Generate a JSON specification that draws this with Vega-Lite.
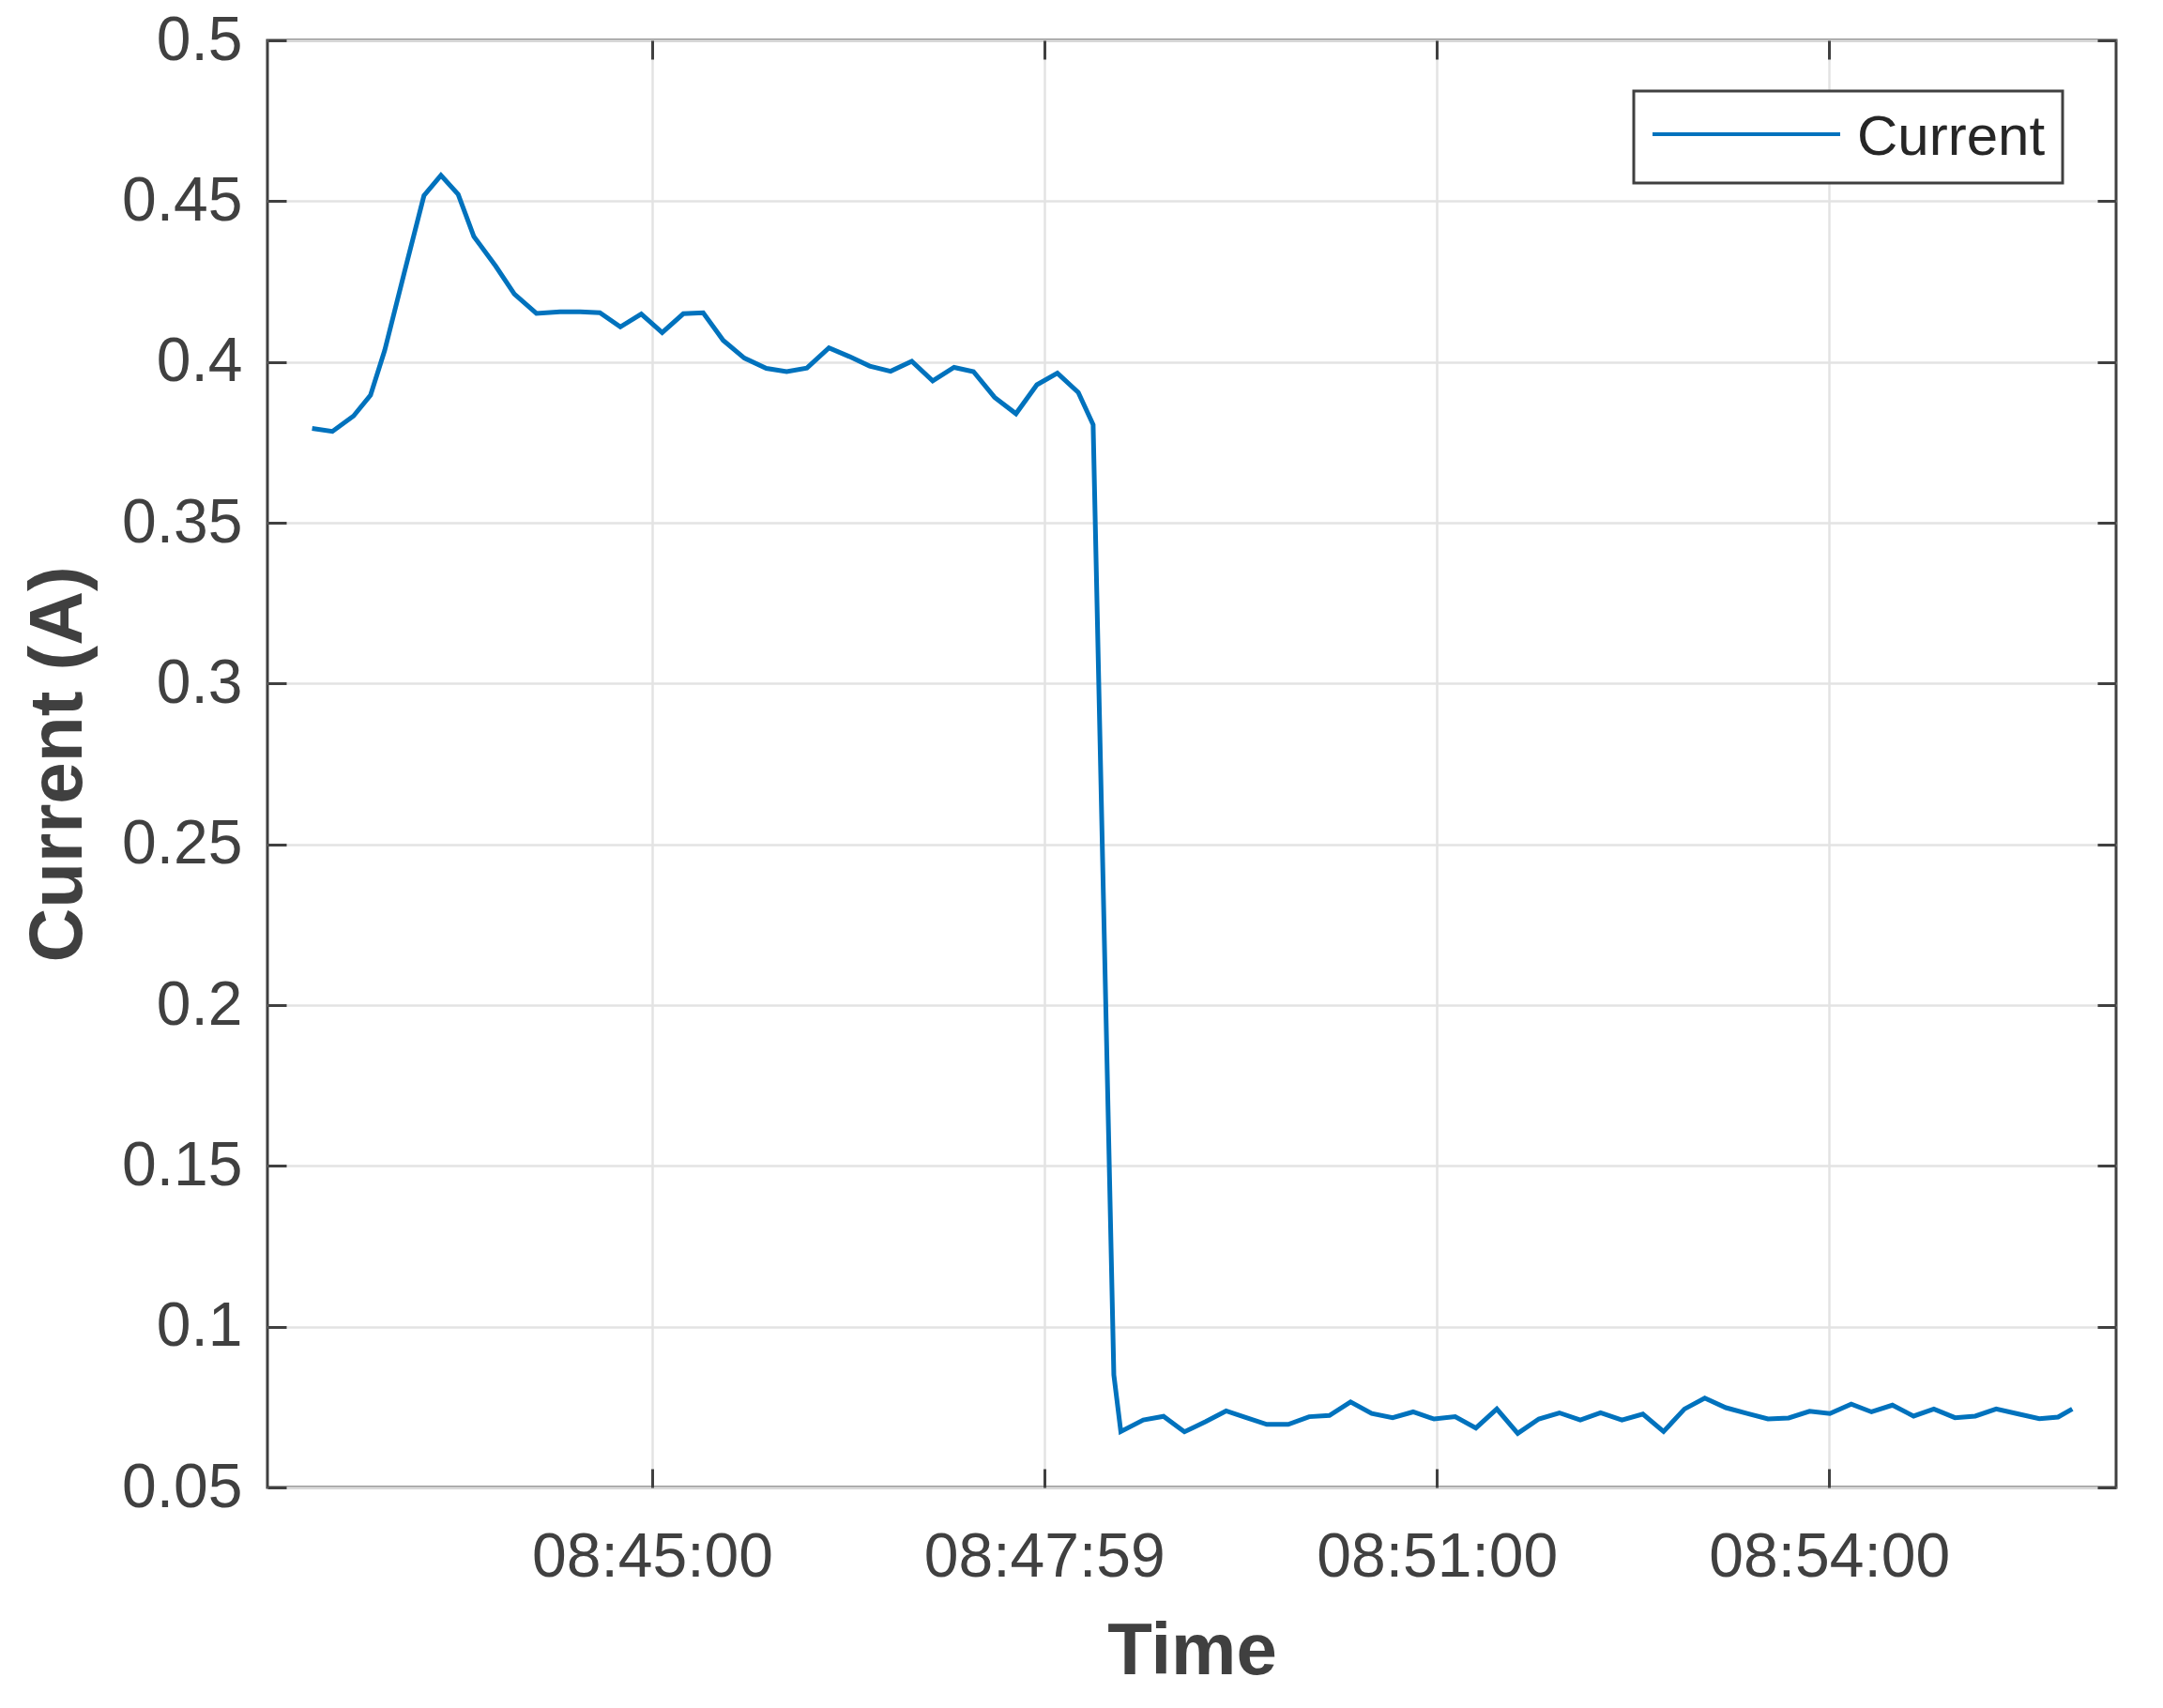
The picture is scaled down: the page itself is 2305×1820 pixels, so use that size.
{
  "$schema": "https://vega.github.io/schema/vega-lite/v6.json",
  "width": 1970,
  "height": 1542,
  "autosize": "none",
  "padding": {"left": 285, "top": 43, "right": 50, "bottom": 235},
  "background": "white",
  "config": {
    "view": {"stroke": "#404040", "strokeWidth": 3},
    "font": "Liberation Sans"
  },
  "data": {"values": [
    {"time": "2020-01-01T08:42:24.000", "current": 0.3793},
    {"time": "2020-01-01T08:42:33.300", "current": 0.3784},
    {"time": "2020-01-01T08:42:43.000", "current": 0.3832},
    {"time": "2020-01-01T08:42:50.800", "current": 0.3897},
    {"time": "2020-01-01T08:42:57.300", "current": 0.4036},
    {"time": "2020-01-01T08:43:06.300", "current": 0.4278},
    {"time": "2020-01-01T08:43:15.300", "current": 0.4517},
    {"time": "2020-01-01T08:43:23.100", "current": 0.4580},
    {"time": "2020-01-01T08:43:31.000", "current": 0.4521},
    {"time": "2020-01-01T08:43:38.200", "current": 0.4390},
    {"time": "2020-01-01T08:43:48.200", "current": 0.4298},
    {"time": "2020-01-01T08:43:56.800", "current": 0.4211},
    {"time": "2020-01-01T08:44:06.900", "current": 0.4151},
    {"time": "2020-01-01T08:44:17.700", "current": 0.4156},
    {"time": "2020-01-01T08:44:27.000", "current": 0.4156},
    {"time": "2020-01-01T08:44:36.000", "current": 0.4153},
    {"time": "2020-01-01T08:44:45.400", "current": 0.4109},
    {"time": "2020-01-01T08:44:55.000", "current": 0.4149},
    {"time": "2020-01-01T08:45:04.600", "current": 0.4091},
    {"time": "2020-01-01T08:45:14.300", "current": 0.4150},
    {"time": "2020-01-01T08:45:23.400", "current": 0.4153},
    {"time": "2020-01-01T08:45:32.600", "current": 0.4067},
    {"time": "2020-01-01T08:45:42.300", "current": 0.4012},
    {"time": "2020-01-01T08:45:52.400", "current": 0.3980},
    {"time": "2020-01-01T08:46:01.700", "current": 0.3970},
    {"time": "2020-01-01T08:46:11.000", "current": 0.3981},
    {"time": "2020-01-01T08:46:21.100", "current": 0.4044},
    {"time": "2020-01-01T08:46:30.400", "current": 0.4017},
    {"time": "2020-01-01T08:46:39.800", "current": 0.3987},
    {"time": "2020-01-01T08:46:49.400", "current": 0.3971},
    {"time": "2020-01-01T08:46:59.100", "current": 0.4002},
    {"time": "2020-01-01T08:47:08.700", "current": 0.3941},
    {"time": "2020-01-01T08:47:18.500", "current": 0.3983},
    {"time": "2020-01-01T08:47:27.400", "current": 0.3970},
    {"time": "2020-01-01T08:47:37.100", "current": 0.3890},
    {"time": "2020-01-01T08:47:46.900", "current": 0.3839},
    {"time": "2020-01-01T08:47:56.500", "current": 0.3929},
    {"time": "2020-01-01T08:48:05.900", "current": 0.3965},
    {"time": "2020-01-01T08:48:15.500", "current": 0.3905},
    {"time": "2020-01-01T08:48:22.300", "current": 0.3805},
    {"time": "2020-01-01T08:48:31.800", "current": 0.0850},
    {"time": "2020-01-01T08:48:35.000", "current": 0.0674},
    {"time": "2020-01-01T08:48:45.300", "current": 0.0710},
    {"time": "2020-01-01T08:48:54.600", "current": 0.0721},
    {"time": "2020-01-01T08:49:04.200", "current": 0.0673},
    {"time": "2020-01-01T08:49:14.000", "current": 0.0705},
    {"time": "2020-01-01T08:49:23.300", "current": 0.0738},
    {"time": "2020-01-01T08:49:32.600", "current": 0.0717},
    {"time": "2020-01-01T08:49:42.000", "current": 0.0696},
    {"time": "2020-01-01T08:49:51.800", "current": 0.0696},
    {"time": "2020-01-01T08:50:01.400", "current": 0.0720},
    {"time": "2020-01-01T08:50:10.700", "current": 0.0724},
    {"time": "2020-01-01T08:50:20.400", "current": 0.0766},
    {"time": "2020-01-01T08:50:30.100", "current": 0.0730},
    {"time": "2020-01-01T08:50:39.700", "current": 0.0717},
    {"time": "2020-01-01T08:50:49.100", "current": 0.0735},
    {"time": "2020-01-01T08:50:58.700", "current": 0.0713},
    {"time": "2020-01-01T08:51:08.400", "current": 0.0720},
    {"time": "2020-01-01T08:51:17.900", "current": 0.0685},
    {"time": "2020-01-01T08:51:27.500", "current": 0.0744},
    {"time": "2020-01-01T08:51:37.100", "current": 0.0668},
    {"time": "2020-01-01T08:51:46.800", "current": 0.0713},
    {"time": "2020-01-01T08:51:56.200", "current": 0.0732},
    {"time": "2020-01-01T08:52:05.800", "current": 0.0710},
    {"time": "2020-01-01T08:52:15.100", "current": 0.0732},
    {"time": "2020-01-01T08:52:24.900", "current": 0.0710},
    {"time": "2020-01-01T08:52:34.500", "current": 0.0728},
    {"time": "2020-01-01T08:52:44.000", "current": 0.0674},
    {"time": "2020-01-01T08:52:53.600", "current": 0.0744},
    {"time": "2020-01-01T08:53:02.900", "current": 0.0778},
    {"time": "2020-01-01T08:53:12.600", "current": 0.0748},
    {"time": "2020-01-01T08:53:22.300", "current": 0.0730},
    {"time": "2020-01-01T08:53:31.900", "current": 0.0713},
    {"time": "2020-01-01T08:53:41.400", "current": 0.0716},
    {"time": "2020-01-01T08:53:51.000", "current": 0.0737},
    {"time": "2020-01-01T08:54:00.300", "current": 0.0730},
    {"time": "2020-01-01T08:54:10.100", "current": 0.0759},
    {"time": "2020-01-01T08:54:19.400", "current": 0.0735},
    {"time": "2020-01-01T08:54:29.000", "current": 0.0756},
    {"time": "2020-01-01T08:54:38.700", "current": 0.0722},
    {"time": "2020-01-01T08:54:48.000", "current": 0.0744},
    {"time": "2020-01-01T08:54:57.700", "current": 0.0717},
    {"time": "2020-01-01T08:55:07.000", "current": 0.0722},
    {"time": "2020-01-01T08:55:16.600", "current": 0.0744},
    {"time": "2020-01-01T08:55:26.400", "current": 0.0729},
    {"time": "2020-01-01T08:55:36.400", "current": 0.0714},
    {"time": "2020-01-01T08:55:45.000", "current": 0.0719},
    {"time": "2020-01-01T08:55:51.500", "current": 0.0744}
  ]},
  "layer": [
    {
      "mark": {"type": "line", "strokeWidth": 5, "interpolate": "linear"},
      "encoding": {
        "x": {
          "field": "time", "type": "temporal", "title": "Time",
          "scale": {"domain": [
            {"year": 2020, "month": 1, "date": 1, "hours": 8, "minutes": 42, "seconds": 3, "milliseconds": 500},
            {"year": 2020, "month": 1, "date": 1, "hours": 8, "minutes": 56, "seconds": 11, "milliseconds": 600}
          ]},
          "axis": {
            "orient": "bottom",
            "values": [
              {"year": 2020, "month": 1, "date": 1, "hours": 8, "minutes": 45, "seconds": 0},
              {"year": 2020, "month": 1, "date": 1, "hours": 8, "minutes": 47, "seconds": 59, "milliseconds": 850},
              {"year": 2020, "month": 1, "date": 1, "hours": 8, "minutes": 51, "seconds": 0},
              {"year": 2020, "month": 1, "date": 1, "hours": 8, "minutes": 54, "seconds": 0}
            ],
            "format": "%H:%M:%S",
            "domain": false,
            "grid": true, "gridColor": "#E3E3E3", "gridWidth": 2.5,
            "ticks": true, "tickSize": -20, "tickColor": "#404040", "tickWidth": 3,
            "labelFont": "Liberation Sans", "labelFontSize": 66, "labelColor": "#404040",
            "labelPadding": 62, "labelFlush": false, "labelOverlap": false, "labelLimit": 0,
            "titleFont": "Liberation Sans", "titleFontSize": 78, "titleFontWeight": "bold",
            "titleColor": "#404040", "titlePadding": 29
          }
        },
        "y": {
          "field": "current", "type": "quantitative", "title": "Current (A)",
          "scale": {"domain": [0.05, 0.5], "nice": false, "zero": false},
          "axis": {
            "orient": "left",
            "values": [0.05, 0.1, 0.15, 0.2, 0.25, 0.3, 0.35, 0.4, 0.45, 0.5],
            "format": "~g",
            "domain": false,
            "grid": true, "gridColor": "#E3E3E3", "gridWidth": 2.5,
            "ticks": true, "tickSize": -20, "tickColor": "#404040", "tickWidth": 3,
            "labelFont": "Liberation Sans", "labelFontSize": 66, "labelColor": "#404040",
            "labelPadding": 47, "labelFlush": false, "labelOverlap": false, "labelLimit": 0,
            "titleFont": "Liberation Sans", "titleFontSize": 80, "titleFontWeight": "bold",
            "titleColor": "#404040", "titlePadding": 26
          }
        },
        "color": {
          "datum": "Current", "type": "nominal",
          "scale": {"range": ["#0072BD"]},
          "legend": {
            "title": null,
            "orient": "none", "legendX": 1456, "legendY": 54,
            "symbolType": "stroke", "symbolSize": 40000, "symbolStrokeWidth": 4,
            "clipHeight": 56,
            "labelFont": "Liberation Sans", "labelFontSize": 60, "labelColor": "#262626",
            "labelOffset": 16, "labelLimit": 0, "padding": 18,
            "fillColor": "white", "strokeColor": "#404040",
            "encode": {
              "legend": {"update": {"strokeWidth": {"value": 3}}},
              "labels": {"update": {"dy": {"value": 4}}}
            }
          }
        }
      }
    },
    {
      "mark": {"type": "line", "opacity": 0},
      "encoding": {
        "x": {
          "field": "time", "type": "temporal", "title": null,
          "axis": {
            "orient": "top",
            "values": [
              {"year": 2020, "month": 1, "date": 1, "hours": 8, "minutes": 45, "seconds": 0},
              {"year": 2020, "month": 1, "date": 1, "hours": 8, "minutes": 47, "seconds": 59, "milliseconds": 850},
              {"year": 2020, "month": 1, "date": 1, "hours": 8, "minutes": 51, "seconds": 0},
              {"year": 2020, "month": 1, "date": 1, "hours": 8, "minutes": 54, "seconds": 0}
            ],
            "labels": false, "domain": false, "grid": false,
            "ticks": true, "tickSize": -20, "tickColor": "#404040", "tickWidth": 3
          }
        },
        "y": {
          "field": "current", "type": "quantitative", "title": null,
          "axis": {
            "orient": "right",
            "values": [0.05, 0.1, 0.15, 0.2, 0.25, 0.3, 0.35, 0.4, 0.45, 0.5],
            "labels": false, "domain": false, "grid": false,
            "ticks": true, "tickSize": -20, "tickColor": "#404040", "tickWidth": 3
          }
        }
      }
    }
  ],
  "resolve": {"axis": {"x": "independent", "y": "independent"}}
}
